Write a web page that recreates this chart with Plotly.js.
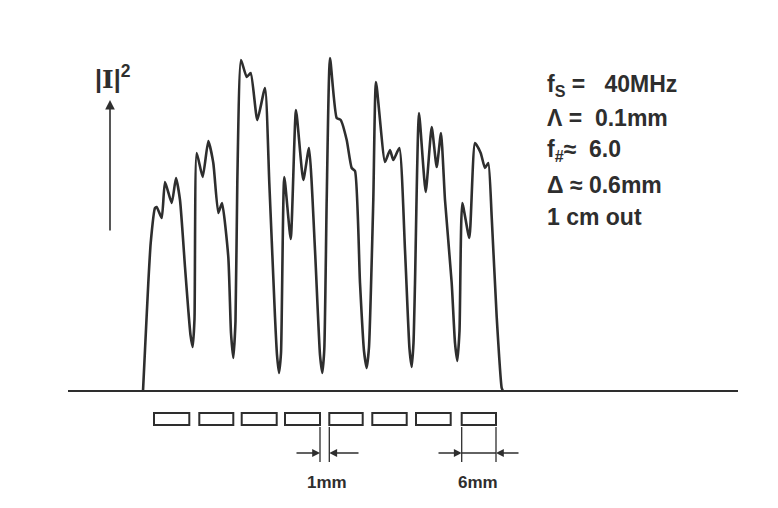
<!DOCTYPE html>
<html><head><meta charset="utf-8">
<script src="https://cdn.plot.ly/plotly-3.0.1.min.js"></script>
<style>html,body{margin:0;padding:0;background:#fff}</style>
</head><body>
<div id="chart" style="width:778px;height:508px"></div>
<script>
// Lateral position (arbitrary units)
const position = [143,145,148.3,150.7,155,156.7,161.7,165,171.7,176,180,185,188.3,190.5,192.7,194.5,196.7,202.7,208.3,213.3,218.3,222,228.3,231,233.3,235.5,237.3,241,246.7,250.7,257.3,265,269.3,275,277,279,281,284.3,290.7,296,303.3,309,315,320,322.3,324.3,326.7,330,336.7,340.7,346.7,351.7,355,360,364,366.7,369,373.3,376,385,390,393.3,399.3,405,409.5,411.7,413.5,415,419,425.7,431.7,436.7,441,445,451.7,455,457.3,459.5,462.3,469.3,475,480.7,485,488.3,491.7,496.7,501.7,503];
// Intensity |I|^2 (arbitrary units)
const intensity = [0,41,108,148,183,184,173,209,188,213,191,124,81,56,44,72,238,214,250,228,178,188,134,58,33,70,208,331,314,318,271,303,208,74,36,18,38,214,152,281,211,243,141,36,18,42,191,333,273,271,251,223,220,108,40,23,44,191,309,229,241,231,243,141,42,24,48,108,278,199,264,224,258,191,108,48,30,60,188,153,248,238,223,228,174,74,3,0];
// Transducer array elements (left, right edges)
const elemLeft  = [154,199.3,241.7,285,329.3,372.3,416,461.7];
const elemRight = [189.3,233.3,276.7,320,362.7,406.7,450.7,496];
const paramLines = ["f<sub>S</sub> =   40MHz","Λ =  0.1mm","f<sub>#</sub>≈  6.0","Δ ≈ 0.6mm","1 cm out"];
const yLabel = "|<span style='font-family:DejaVu Serif'>I</span>|<sup>2</sup>";
const gapLabel = "1mm";
const pitchLabel = "6mm";

const ink = '#2e2e2e';
const font = 'Liberation Sans, Arial, sans-serif';
const shapes = [];
for (let i = 0; i < elemLeft.length; i++) {
  shapes.push({type:'rect', xref:'x', yref:'y', x0:elemLeft[i], x1:elemRight[i], y0:-22, y1:-34,
    line:{color:ink, width:2}, fillcolor:'rgba(0,0,0,0)'});
}
// dimension extension lines
[elemRight[3], elemLeft[4], elemLeft[7], elemRight[7]].forEach(xv => {
  shapes.push({type:'line', xref:'x', yref:'y', x0:xv, x1:xv, y0:-36, y1:-71, line:{color:ink, width:1.3}});
});
shapes.push({type:'line', xref:'x', yref:'y', x0:elemLeft[7], x1:elemRight[7], y0:-62, y1:-62, line:{color:ink, width:1.3}});

const annotations = [];
const arrow = (hx, hy, tx, ty, w) => ({x:hx, y:hy, ax:tx, ay:ty, xref:'x', yref:'y', axref:'x', ayref:'y',
  text:'', showarrow:true, arrowhead:2, arrowsize:1.2, arrowwidth:w, arrowcolor:ink});
annotations.push(arrow(110, 291, 110, 159, 1.6));
annotations.push(arrow(elemRight[3], -62, 295, -62, 1.3));
annotations.push(arrow(elemLeft[4], -62, 360, -62, 1.3));
annotations.push(arrow(elemLeft[7], -62, 437, -62, 1.3));
annotations.push(arrow(elemRight[7], -62, 520, -62, 1.3));
annotations.push({x:113, y:314, xref:'x', yref:'y', text:yLabel, showarrow:false, xanchor:'center', yanchor:'middle',
  font:{family:font, size:25, color:ink, weight:'bold'}});
annotations.push({x:326.7, y:-91, xref:'x', yref:'y', text:gapLabel, showarrow:false, font:{family:font, size:17, color:ink, weight:'bold'}});
annotations.push({x:478.3, y:-91, xref:'x', yref:'y', text:pitchLabel, showarrow:false, font:{family:font, size:17, color:ink, weight:'bold'}});
const lineY = [306, 273, 241, 206, 174];
paramLines.forEach((t, i) => {
  annotations.push({x:545, y:lineY[i], xref:'x', yref:'y', text:t, showarrow:false, xanchor:'left', yanchor:'middle',
    font:{family:font, size:23, color:ink, weight:'bold'}});
});

const trace = {x:position, y:intensity, type:'scatter', mode:'lines',
  line:{color:ink, width:2.6, shape:'spline', smoothing:0.5}, hoverinfo:'skip'};

const layout = {
  width:778, height:508,
  margin:{l:68, r:40, t:20, b:0},
  paper_bgcolor:'#fff', plot_bgcolor:'#fff',
  showlegend:false,
  xaxis:{range:[68,738], visible:false, fixedrange:true},
  yaxis:{range:[-117,371], showgrid:false, showticklabels:false, ticks:'', showline:false,
    zeroline:true, zerolinecolor:ink, zerolinewidth:2, fixedrange:true},
  shapes:shapes,
  annotations:annotations
};
Plotly.newPlot('chart', [trace], layout, {displayModeBar:false, staticPlot:true});
</script>
</body></html>
